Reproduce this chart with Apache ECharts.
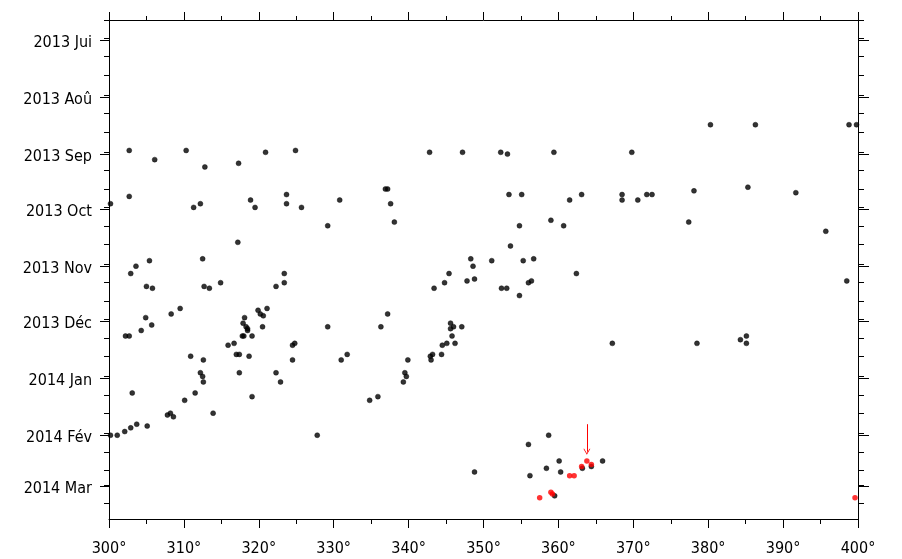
<!DOCTYPE html>
<html>
<head>
<meta charset="utf-8">
<script src="https://cdn.jsdelivr.net/npm/echarts@6.0.0/dist/echarts.min.js"></script>
<style>
  html, body { margin: 0; padding: 0; background: #fff; }
  #chart { width: 902px; height: 559px; }
</style>
</head>
<body>
<div id="chart"></div>
<script>
// ---------------- DATA ----------------
const MONTH_STARTS = ['2013-07-01','2013-08-01','2013-09-01','2013-10-01','2013-11-01','2013-12-01','2014-01-01','2014-02-01','2014-03-01'];
const MONTH_LABELS = ['2013 Jui','2013 Aoû','2013 Sep','2013 Oct','2013 Nov','2013 Déc','2014 Jan','2014 Fév','2014 Mar'];
const MINOR_TICK_MONTHS = ['2013-06','2013-07','2013-08','2013-09','2013-10','2013-11','2013-12','2014-01','2014-02','2014-03'];
const MINOR_TICK_DAYS = [1, 11, 21];
const X_MIN = 300, X_MAX = 400, X_STEP = 10;
const Y_START = '2013-06-21';      // top of the plot
const Y_END = '2014-03-19';        // bottom of the plot (plus a fraction of a day)

// black points: longitude (deg) and date
const BLACK_X = [
  300.2, 302.7, 302.7, 306.1, 310.3, 311.3, 312.2, 312.8, 317.2, 317.3,
  318.9, 319.5, 320.9, 323.7, 323.7, 324.9, 325.7, 329.2, 330.8,
  342.8, 347.2, 352.3, 353.2, 359.4, 336.9, 337.2, 337.6, 338.1, 353.4,
  355.1, 354.8, 353.6, 359.0, 360.7, 361.5, 363.1,
  380.3, 386.3, 398.8, 399.8, 369.8, 368.5, 368.5, 370.6, 371.8, 372.5,
  378.1, 377.4, 385.3, 391.7, 395.7,
  302.9, 303.6, 305.4, 312.5, 305.0, 305.8, 312.7, 313.4, 314.9, 322.3,
  323.4, 323.4, 308.3, 309.5, 304.9, 305.7, 304.3, 302.2, 302.7, 303.1,
  310.9, 312.6, 312.2, 312.5, 312.6, 311.5, 318.1, 317.9, 318.3, 318.5,
  318.5, 317.8, 318.0, 319.1, 319.9, 320.2, 320.6, 321.1, 320.5, 315.9,
  316.7, 317.0, 317.4, 318.7, 317.4, 319.1, 322.3, 322.9, 324.5, 324.8,
  324.5, 329.2, 331.0, 331.8,
  348.3, 348.6, 351.1, 355.3, 356.7, 345.4, 362.4, 344.8, 347.8, 348.8,
  343.4, 352.4, 353.1, 354.8, 356.0, 356.4, 337.2, 336.3, 345.6, 345.6,
  346.0, 347.1, 345.8, 344.5, 345.1, 346.2, 342.9, 343.2, 343.0, 344.4,
  339.9, 339.5, 339.7, 339.3, 335.9,
  398.5, 367.2, 378.5, 384.3, 385.1, 385.1,
  310.1, 313.9, 307.8, 308.2, 308.6, 303.7, 305.1, 302.9, 302.1, 301.1,
  300.2, 327.8,
  334.8, 348.8, 356.0, 358.7, 356.2, 358.4, 360.1, 360.3, 363.2, 364.4,
  365.9, 359.5
];
const BLACK_DATE = [
  '2013-09-29','2013-08-31','2013-09-25','2013-09-05','2013-08-31','2013-10-01','2013-09-29','2013-09-09','2013-10-20','2013-09-07',
  '2013-09-27','2013-10-01','2013-09-01','2013-09-24','2013-09-29','2013-08-31','2013-10-01','2013-10-11','2013-09-27',
  '2013-09-01','2013-09-01','2013-09-01','2013-09-02','2013-09-01','2013-09-21','2013-09-21','2013-09-29','2013-10-09','2013-09-24',
  '2013-09-24','2013-10-11','2013-10-22','2013-10-08','2013-10-11','2013-09-27','2013-09-24',
  '2013-08-17','2013-08-17','2013-08-17','2013-08-17','2013-09-01','2013-09-24','2013-09-27','2013-09-27','2013-09-24','2013-09-24',
  '2013-09-22','2013-10-09','2013-09-20','2013-09-23','2013-10-14',
  '2013-11-06','2013-11-02','2013-10-30','2013-10-29','2013-11-13','2013-11-14','2013-11-13','2013-11-14','2013-11-11','2013-11-13',
  '2013-11-06','2013-11-11','2013-11-28','2013-11-25','2013-11-30','2013-12-04','2013-12-07','2013-12-10','2013-12-10','2014-01-10',
  '2013-12-21','2013-12-23','2013-12-30','2014-01-01','2014-01-04','2014-01-10','2013-11-30','2013-12-03','2013-12-05','2013-12-06',
  '2013-12-07','2013-12-10','2013-12-10','2013-12-10','2013-11-26','2013-11-28','2013-11-29','2013-11-25','2013-12-05','2013-12-15',
  '2013-12-14','2013-12-20','2013-12-20','2013-12-21','2013-12-30','2014-01-12','2013-12-30','2014-01-04','2013-12-15','2013-12-14',
  '2013-12-23','2013-12-05','2013-12-23','2013-12-20',
  '2013-10-29','2013-11-02','2013-10-30','2013-10-30','2013-10-29','2013-11-06','2013-11-06','2013-11-11','2013-11-10','2013-11-09',
  '2013-11-14','2013-11-14','2013-11-14','2013-11-18','2013-11-11','2013-11-10','2013-11-28','2013-12-05','2013-12-03','2013-12-06',
  '2013-12-05','2013-12-05','2013-12-10','2013-12-15','2013-12-14','2013-12-14','2013-12-21','2013-12-20','2013-12-23','2013-12-20',
  '2013-12-23','2013-12-30','2014-01-01','2014-01-04','2014-01-12',
  '2013-11-10','2013-12-14','2013-12-14','2013-12-12','2013-12-10','2013-12-14',
  '2014-01-14','2014-01-21','2014-01-22','2014-01-21','2014-01-23','2014-01-27','2014-01-28','2014-01-29','2014-01-31','2014-02-02',
  '2014-02-02','2014-02-02',
  '2014-01-14','2014-02-22','2014-02-07','2014-02-02','2014-02-24','2014-02-20','2014-02-16','2014-02-22','2014-02-20','2014-02-19',
  '2014-02-16','2014-03-07'
];

// red points
const RED_X = [357.5, 359.0, 359.2, 361.5, 362.1, 363.1, 363.8, 364.4, 399.6];
const RED_DATE = ['2014-03-08','2014-03-05','2014-03-06','2014-02-24','2014-02-24','2014-02-19','2014-02-16','2014-02-18','2014-03-08'];

// red arrow annotation (longitude, start date, end date)
const ARROW_X = 363.8;
const ARROW_FROM = '2014-01-27';
const ARROW_TO = '2014-02-11';

// ---------------- HELPERS ----------------
const EPOCH = Date.UTC(2013, 5, 1);
function day(s) {
  const p = s.split('-').map(Number);
  return (Date.UTC(p[0], p[1] - 1, p[2] || 1) - EPOCH) / 86400000;
}
const Y_MIN = day(Y_START);
const Y_MAX = day(Y_END) + 0.6;
const MAJOR_SHIFT = 0.9; // major ticks sit slightly below the day-1 minor tick in the original
const LABEL_SHIFT = 2.4; // month labels are centred a little below the major tick
const majorVals = MONTH_STARTS.map(s => day(s) + MAJOR_SHIFT);
const labelVals = MONTH_STARTS.map(s => day(s) + LABEL_SHIFT);
const minorVals = [];
MINOR_TICK_MONTHS.forEach(m => MINOR_TICK_DAYS.forEach(d => {
  const v = day(m + '-' + String(d).padStart(2, '0'));
  if (v >= Y_MIN && v <= Y_MAX) minorVals.push(v);
}));

const FONT = '"DejaVu Sans Condensed", "Liberation Sans", sans-serif';
const BLACK = '#000';

function yAxisDef(position, values, len, withLabels, withLine) {
  return {
    type: 'value', position: position, min: Y_MIN, max: Y_MAX, inverse: true,
    axisLine: { show: withLine, onZero: false, lineStyle: { color: BLACK, width: 1 } },
    axisTick: { show: true, length: len, customValues: values, lineStyle: { color: BLACK, width: 1 } },
    axisLabel: withLabels ? {
      show: true, customValues: labelVals, margin: 17, fontSize: 16, fontFamily: FONT, color: BLACK,
      formatter: function (val) {
        const i = labelVals.findIndex(m => Math.abs(m - val) < 0.01);
        return i >= 0 ? MONTH_LABELS[i] : '';
      }
    } : { show: false },
    splitLine: { show: false }
  };
}
function xAxisDef(position, len, minorLen, withLabels) {
  return {
    type: 'value', position: position, min: X_MIN, max: X_MAX, interval: X_STEP,
    axisLine: { show: true, onZero: false, lineStyle: { color: BLACK, width: 1 } },
    axisTick: { show: true, length: len, lineStyle: { color: BLACK, width: 1 } },
    minorTick: { show: true, splitNumber: 2, length: minorLen, lineStyle: { color: BLACK, width: 1 } },
    axisLabel: withLabels ? {
      show: true, margin: 22, fontSize: 16, fontFamily: FONT, color: BLACK,
      formatter: '{value}°', showMinLabel: true, showMaxLabel: true
    } : { show: false },
    splitLine: { show: false }, minorSplitLine: { show: false }
  };
}

const chart = echarts.init(document.getElementById('chart'), null, { renderer: 'canvas' });
chart.setOption({
  animation: false,
  backgroundColor: '#fff',
  grid: { left: 109, right: 44, top: 20, bottom: 40, containLabel: false, outerBoundsMode: 'none' },
  xAxis: [xAxisDef('bottom', 9, 5, true), xAxisDef('top', 8, 4, false)],
  yAxis: [
    yAxisDef('left', majorVals, 9, true, true),
    yAxisDef('left', minorVals, 5, false, false),
    yAxisDef('right', majorVals, 11, false, true),
    yAxisDef('right', minorVals, 6, false, false)
  ],
  series: [
    {
      type: 'scatter', silent: true, symbol: 'circle', symbolSize: 5,
      itemStyle: { color: BLACK, borderColor: BLACK, borderWidth: 0.5 },
      data: BLACK_X.map((x, i) => [x, day(BLACK_DATE[i])])
    },
    {
      type: 'scatter', silent: true, symbol: 'circle', symbolSize: 5.5, z: 3,
      itemStyle: { color: '#ff0000' },
      data: RED_X.map((x, i) => [x, day(RED_DATE[i])]),
      markLine: {
        silent: true, animation: false,
        symbol: ['none', 'path://M0,10 L5,0 L10,10 L8.8,10 L5,2.4 L1.2,10 Z'],
        symbolSize: [7, 6],
        label: { show: false },
        lineStyle: { color: '#ff0000', width: 1, type: 'solid' },
        data: [[{ coord: [ARROW_X, day(ARROW_FROM)] }, { coord: [ARROW_X, day(ARROW_TO)] }]]
      }
    }
  ]
});
</script>
</body>
</html>
